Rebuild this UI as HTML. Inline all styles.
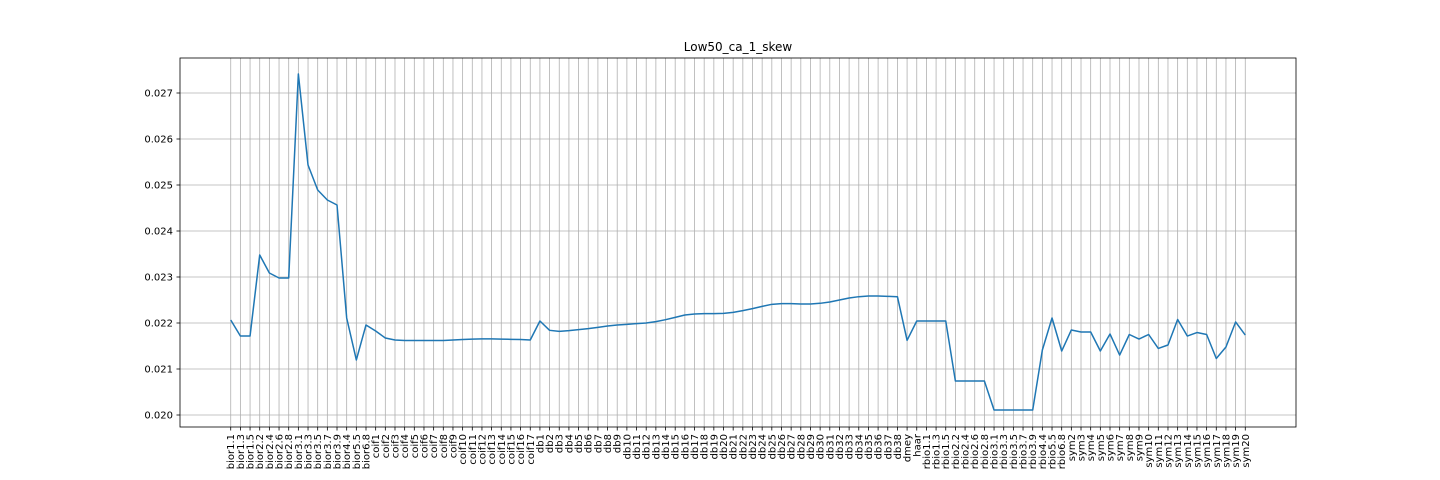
<!DOCTYPE html>
<html><head><meta charset="utf-8"><style>
body{margin:0;background:#fff;}
svg{display:block;font-family:"DejaVu Sans","Liberation Sans",sans-serif;}
</style></head><body>
<svg id="chart" width="1440" height="480" viewBox="0 0 1440 480" xmlns="http://www.w3.org/2000/svg"></svg>
<script>
const categories = ["bior1.1","bior1.3","bior1.5","bior2.2","bior2.4","bior2.6","bior2.8","bior3.1","bior3.3","bior3.5","bior3.7","bior3.9","bior4.4","bior5.5","bior6.8",
"coif1","coif2","coif3","coif4","coif5","coif6","coif7","coif8","coif9","coif10","coif11","coif12","coif13","coif14","coif15","coif16","coif17",
"db1","db2","db3","db4","db5","db6","db7","db8","db9","db10","db11","db12","db13","db14","db15","db16","db17","db18","db19","db20","db21","db22","db23","db24","db25","db26","db27","db28","db29","db30","db31","db32","db33","db34","db35","db36","db37","db38",
"dmey","haar","rbio1.1","rbio1.3","rbio1.5","rbio2.2","rbio2.4","rbio2.6","rbio2.8","rbio3.1","rbio3.3","rbio3.5","rbio3.7","rbio3.9","rbio4.4","rbio5.5","rbio6.8",
"sym2","sym3","sym4","sym5","sym6","sym7","sym8","sym9","sym10","sym11","sym12","sym13","sym14","sym15","sym16","sym17","sym18","sym19","sym20"];
const values = [0.022065,0.021717,0.021717,0.023478,0.023087,0.022978,0.022978,0.027413,0.025435,0.024891,0.024674,0.024565,0.022109,0.021196,0.021957,
0.021826,0.021674,0.021630,0.021620,0.021620,0.021620,0.021620,0.021620,0.021630,0.021641,0.021650,0.021655,0.021655,0.021650,0.021645,0.021641,0.021630,
0.022043,0.021841,0.021819,0.021833,0.021855,0.021877,0.021906,0.021935,0.021957,0.021971,0.021986,0.022000,0.022029,0.022072,0.022123,0.022174,0.022196,0.022203,0.022203,0.022210,0.022232,0.022268,0.022312,0.022362,0.022406,0.022420,0.022420,0.022413,0.022413,0.022428,0.022457,0.022500,0.022543,0.022572,0.022587,0.022587,0.022580,0.022572,
0.021623,0.022043,0.022043,0.022043,0.022043,0.020739,0.020739,0.020739,0.020739,0.020109,0.020109,0.020109,0.020109,0.020109,0.021413,0.022109,0.021391,
0.021848,0.021804,0.021804,0.021391,0.021761,0.021304,0.021750,0.021652,0.021750,0.021446,0.021522,0.022076,0.021717,0.021793,0.021750,0.021228,0.021478,0.022022,0.021739];
const yTicks = [0.020,0.021,0.022,0.023,0.024,0.025,0.026,0.027];
const yTickLabels = ["0.020","0.021","0.022","0.023","0.024","0.025","0.026","0.027"];
const titleText = "Low50_ca_1_skew";

const svg = document.getElementById('chart');
const NS = "http://www.w3.org/2000/svg";
const L=180,R=1296,T=58,B=427;
const n = categories.length;
const unit = (R-L)/((n-1)*1.1);
function xPos(i){return L + unit*(n-1)*0.05 + i*unit;}
const yMin=0.020-12/46000, yMax=0.020+357/46000;
function yPos(v){return B - (v-yMin)/(yMax-yMin)*(B-T);}
function mk(tag,attrs){const e=document.createElementNS(NS,tag);for(const k in attrs)e.setAttribute(k,attrs[k]);return e;}

const grid = mk('g',{});


svg.appendChild(grid);
categories.forEach((c,i)=>{
  const x=xPos(i);
  const gl=mk('line',{x1:x,x2:x,y1:T,y2:B,stroke:'#b0b0b0','stroke-width':0.8});
  
  
  grid.appendChild(gl);
});
yTicks.forEach((t,i)=>{
  const y=yPos(t);
  const gl=mk('line',{x1:L,x2:R,y1:y,y2:y,stroke:'#b0b0b0','stroke-width':0.8});
  
  
  grid.appendChild(gl);
  const tk=mk('line',{x1:L-3.5,x2:L,y1:y,y2:y,stroke:'#000','stroke-width':0.8});
  
  
  svg.appendChild(tk);
  const tx=mk('text',{x:L-7,y:y+3.5,'text-anchor':'end','font-size':10});
  
  
  tx.textContent=yTickLabels[i];
  svg.appendChild(tx);
});
categories.forEach((c,i)=>{
  const x=xPos(i);
  const tk=mk('line',{x1:x,x2:x,y1:B,y2:B+3.5,stroke:'#000','stroke-width':0.8});
  
  
  svg.appendChild(tk);
  const tx=mk('text',{x:0,y:0,'text-anchor':'end','font-size':10,transform:`translate(${x+3.5},${B+7}) rotate(-90)`});
  
  
  tx.textContent=c;
  svg.appendChild(tx);
});
const pts=values.map((v,i)=>xPos(i).toFixed(2)+','+yPos(v).toFixed(2)).join(' ');
const line=mk('polyline',{points:pts,fill:'none',stroke:'#1f77b4','stroke-width':1.5,'stroke-linejoin':'round'});


svg.appendChild(line);
const frame=mk('rect',{x:L,y:T,width:R-L,height:B-T,fill:'none',stroke:'#000','stroke-width':0.8});


svg.appendChild(frame);
const title=mk('text',{x:(L+R)/2,y:51,'text-anchor':'middle','font-size':12});


title.textContent=titleText;
svg.appendChild(title);
</script>
</body></html>
